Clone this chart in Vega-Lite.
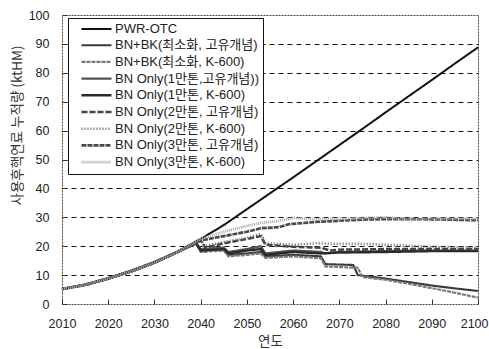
{
  "$schema": "https://vega.github.io/schema/vega-lite/v6.json",
  "width": 416,
  "height": 289,
  "autosize": {"type": "none"},
  "padding": {"left": 62, "top": 15, "right": 11, "bottom": 45},
  "background": "white",
  "config": {
    "view": {"stroke": "#444", "strokeWidth": 1, "strokeDash": [2, 1]},
    "font": "Liberation Sans",
    "axis": {"labelFont": "Liberation Sans", "titleFont": "Noto Sans CJK KR", "labelColor": "#222", "titleColor": "#333", "labelFontSize": 12.5, "titleFontSize": 13.5, "titleFontWeight": "normal", "domain": false, "tickColor": "#333"}
  },
  "data": {"values": [
    {"series":"PWR-OTC","year":2010,"value":5.0},{"series":"PWR-OTC","year":2015,"value":6.8},{"series":"PWR-OTC","year":2020,"value":9.0},{"series":"PWR-OTC","year":2025,"value":11.6},{"series":"PWR-OTC","year":2030,"value":14.6},{"series":"PWR-OTC","year":2035,"value":18.2},{"series":"PWR-OTC","year":2040,"value":22.5},{"series":"PWR-OTC","year":2045,"value":27.3},{"series":"PWR-OTC","year":2050,"value":32.8},{"series":"PWR-OTC","year":2055,"value":38.3},{"series":"PWR-OTC","year":2060,"value":43.8},{"series":"PWR-OTC","year":2065,"value":49.4},{"series":"PWR-OTC","year":2070,"value":55.0},{"series":"PWR-OTC","year":2075,"value":60.6},{"series":"PWR-OTC","year":2080,"value":66.3},{"series":"PWR-OTC","year":2085,"value":71.9},{"series":"PWR-OTC","year":2090,"value":77.5},{"series":"PWR-OTC","year":2095,"value":83.2},{"series":"PWR-OTC","year":2100,"value":88.8},

    {"series":"BN+BK(최소화, 고유개념)","year":2010,"value":5.2},{"series":"BN+BK(최소화, 고유개념)","year":2015,"value":6.6},{"series":"BN+BK(최소화, 고유개념)","year":2020,"value":8.8},{"series":"BN+BK(최소화, 고유개념)","year":2025,"value":11.3},{"series":"BN+BK(최소화, 고유개념)","year":2030,"value":14.3},{"series":"BN+BK(최소화, 고유개념)","year":2035,"value":18.0},{"series":"BN+BK(최소화, 고유개념)","year":2039,"value":21.2},{"series":"BN+BK(최소화, 고유개념)","year":2040,"value":18.5},{"series":"BN+BK(최소화, 고유개념)","year":2045,"value":19.0},{"series":"BN+BK(최소화, 고유개념)","year":2046,"value":17.0},{"series":"BN+BK(최소화, 고유개념)","year":2050,"value":17.5},{"series":"BN+BK(최소화, 고유개념)","year":2053,"value":18.0},{"series":"BN+BK(최소화, 고유개념)","year":2054,"value":16.5},{"series":"BN+BK(최소화, 고유개념)","year":2060,"value":17.0},{"series":"BN+BK(최소화, 고유개념)","year":2066,"value":16.5},{"series":"BN+BK(최소화, 고유개념)","year":2067,"value":13.8},{"series":"BN+BK(최소화, 고유개념)","year":2073,"value":13.5},{"series":"BN+BK(최소화, 고유개념)","year":2074,"value":10.0},{"series":"BN+BK(최소화, 고유개념)","year":2080,"value":8.8},{"series":"BN+BK(최소화, 고유개념)","year":2085,"value":7.6},{"series":"BN+BK(최소화, 고유개념)","year":2090,"value":6.4},{"series":"BN+BK(최소화, 고유개념)","year":2095,"value":5.4},{"series":"BN+BK(최소화, 고유개념)","year":2100,"value":4.5},

    {"series":"BN+BK(최소화, K-600)","year":2010,"value":5.2},{"series":"BN+BK(최소화, K-600)","year":2015,"value":6.6},{"series":"BN+BK(최소화, K-600)","year":2020,"value":8.8},{"series":"BN+BK(최소화, K-600)","year":2025,"value":11.3},{"series":"BN+BK(최소화, K-600)","year":2030,"value":14.3},{"series":"BN+BK(최소화, K-600)","year":2035,"value":18.0},{"series":"BN+BK(최소화, K-600)","year":2039,"value":21.0},{"series":"BN+BK(최소화, K-600)","year":2040,"value":18.0},{"series":"BN+BK(최소화, K-600)","year":2045,"value":18.5},{"series":"BN+BK(최소화, K-600)","year":2046,"value":16.5},{"series":"BN+BK(최소화, K-600)","year":2050,"value":17.0},{"series":"BN+BK(최소화, K-600)","year":2053,"value":17.5},{"series":"BN+BK(최소화, K-600)","year":2054,"value":16.0},{"series":"BN+BK(최소화, K-600)","year":2060,"value":16.5},{"series":"BN+BK(최소화, K-600)","year":2066,"value":15.8},{"series":"BN+BK(최소화, K-600)","year":2067,"value":13.0},{"series":"BN+BK(최소화, K-600)","year":2074,"value":12.5},{"series":"BN+BK(최소화, K-600)","year":2075,"value":9.3},{"series":"BN+BK(최소화, K-600)","year":2080,"value":8.4},{"series":"BN+BK(최소화, K-600)","year":2085,"value":7.0},{"series":"BN+BK(최소화, K-600)","year":2090,"value":5.5},{"series":"BN+BK(최소화, K-600)","year":2095,"value":3.9},{"series":"BN+BK(최소화, K-600)","year":2100,"value":2.2},

    {"series":"BN Only(1만톤,고유개념))","year":2010,"value":5.2},{"series":"BN Only(1만톤,고유개념))","year":2015,"value":6.6},{"series":"BN Only(1만톤,고유개념))","year":2020,"value":8.8},{"series":"BN Only(1만톤,고유개념))","year":2025,"value":11.3},{"series":"BN Only(1만톤,고유개념))","year":2030,"value":14.3},{"series":"BN Only(1만톤,고유개념))","year":2035,"value":18.0},{"series":"BN Only(1만톤,고유개념))","year":2039,"value":21.0},{"series":"BN Only(1만톤,고유개념))","year":2040,"value":19.0},{"series":"BN Only(1만톤,고유개념))","year":2045,"value":19.5},{"series":"BN Only(1만톤,고유개념))","year":2046,"value":18.0},{"series":"BN Only(1만톤,고유개념))","year":2050,"value":19.0},{"series":"BN Only(1만톤,고유개념))","year":2053,"value":20.0},{"series":"BN Only(1만톤,고유개념))","year":2054,"value":17.5},{"series":"BN Only(1만톤,고유개념))","year":2060,"value":18.5},{"series":"BN Only(1만톤,고유개념))","year":2066,"value":18.0},{"series":"BN Only(1만톤,고유개념))","year":2067,"value":17.5},{"series":"BN Only(1만톤,고유개념))","year":2070,"value":18.0},{"series":"BN Only(1만톤,고유개념))","year":2080,"value":18.3},{"series":"BN Only(1만톤,고유개념))","year":2090,"value":18.5},{"series":"BN Only(1만톤,고유개념))","year":2100,"value":18.5},

    {"series":"BN Only(1만톤, K-600)","year":2010,"value":5.2},{"series":"BN Only(1만톤, K-600)","year":2015,"value":6.6},{"series":"BN Only(1만톤, K-600)","year":2020,"value":8.8},{"series":"BN Only(1만톤, K-600)","year":2025,"value":11.3},{"series":"BN Only(1만톤, K-600)","year":2030,"value":14.3},{"series":"BN Only(1만톤, K-600)","year":2035,"value":18.0},{"series":"BN Only(1만톤, K-600)","year":2039,"value":21.0},{"series":"BN Only(1만톤, K-600)","year":2040,"value":18.5},{"series":"BN Only(1만톤, K-600)","year":2045,"value":19.0},{"series":"BN Only(1만톤, K-600)","year":2046,"value":17.5},{"series":"BN Only(1만톤, K-600)","year":2050,"value":18.5},{"series":"BN Only(1만톤, K-600)","year":2053,"value":19.0},{"series":"BN Only(1만톤, K-600)","year":2054,"value":17.0},{"series":"BN Only(1만톤, K-600)","year":2060,"value":18.0},{"series":"BN Only(1만톤, K-600)","year":2066,"value":17.5},{"series":"BN Only(1만톤, K-600)","year":2070,"value":17.8},{"series":"BN Only(1만톤, K-600)","year":2080,"value":18.0},{"series":"BN Only(1만톤, K-600)","year":2090,"value":18.3},{"series":"BN Only(1만톤, K-600)","year":2100,"value":18.3},

    {"series":"BN Only(2만톤, 고유개념)","year":2010,"value":5.2},{"series":"BN Only(2만톤, 고유개념)","year":2015,"value":6.6},{"series":"BN Only(2만톤, 고유개념)","year":2020,"value":8.8},{"series":"BN Only(2만톤, 고유개념)","year":2025,"value":11.3},{"series":"BN Only(2만톤, 고유개념)","year":2030,"value":14.3},{"series":"BN Only(2만톤, 고유개념)","year":2035,"value":18.0},{"series":"BN Only(2만톤, 고유개념)","year":2040,"value":22.0},{"series":"BN Only(2만톤, 고유개념)","year":2041,"value":19.5},{"series":"BN Only(2만톤, 고유개념)","year":2045,"value":21.0},{"series":"BN Only(2만톤, 고유개념)","year":2050,"value":22.5},{"series":"BN Only(2만톤, 고유개념)","year":2053,"value":23.5},{"series":"BN Only(2만톤, 고유개념)","year":2054,"value":20.5},{"series":"BN Only(2만톤, 고유개념)","year":2060,"value":19.8},{"series":"BN Only(2만톤, 고유개념)","year":2066,"value":19.5},{"series":"BN Only(2만톤, 고유개념)","year":2068,"value":18.5},{"series":"BN Only(2만톤, 고유개념)","year":2070,"value":18.8},{"series":"BN Only(2만톤, 고유개념)","year":2080,"value":19.0},{"series":"BN Only(2만톤, 고유개념)","year":2090,"value":19.0},{"series":"BN Only(2만톤, 고유개념)","year":2100,"value":19.0},

    {"series":"BN Only(2만톤, K-600)","year":2010,"value":5.2},{"series":"BN Only(2만톤, K-600)","year":2015,"value":6.6},{"series":"BN Only(2만톤, K-600)","year":2020,"value":8.8},{"series":"BN Only(2만톤, K-600)","year":2025,"value":11.3},{"series":"BN Only(2만톤, K-600)","year":2030,"value":14.3},{"series":"BN Only(2만톤, K-600)","year":2035,"value":18.0},{"series":"BN Only(2만톤, K-600)","year":2040,"value":22.0},{"series":"BN Only(2만톤, K-600)","year":2041,"value":20.0},{"series":"BN Only(2만톤, K-600)","year":2045,"value":21.5},{"series":"BN Only(2만톤, K-600)","year":2050,"value":22.8},{"series":"BN Only(2만톤, K-600)","year":2053,"value":24.3},{"series":"BN Only(2만톤, K-600)","year":2054,"value":21.0},{"series":"BN Only(2만톤, K-600)","year":2060,"value":20.5},{"series":"BN Only(2만톤, K-600)","year":2065,"value":21.0},{"series":"BN Only(2만톤, K-600)","year":2070,"value":20.8},{"series":"BN Only(2만톤, K-600)","year":2075,"value":20.8},{"series":"BN Only(2만톤, K-600)","year":2080,"value":20.5},{"series":"BN Only(2만톤, K-600)","year":2090,"value":19.8},{"series":"BN Only(2만톤, K-600)","year":2100,"value":19.5},

    {"series":"BN Only(3만톤, 고유개념)","year":2010,"value":5.2},{"series":"BN Only(3만톤, 고유개념)","year":2015,"value":6.6},{"series":"BN Only(3만톤, 고유개념)","year":2020,"value":8.8},{"series":"BN Only(3만톤, 고유개념)","year":2025,"value":11.3},{"series":"BN Only(3만톤, 고유개념)","year":2030,"value":14.3},{"series":"BN Only(3만톤, 고유개념)","year":2035,"value":18.0},{"series":"BN Only(3만톤, 고유개념)","year":2040,"value":22.0},{"series":"BN Only(3만톤, 고유개념)","year":2045,"value":23.5},{"series":"BN Only(3만톤, 고유개념)","year":2050,"value":25.0},{"series":"BN Only(3만톤, 고유개념)","year":2053,"value":26.2},{"series":"BN Only(3만톤, 고유개념)","year":2057,"value":26.6},{"series":"BN Only(3만톤, 고유개념)","year":2059,"value":27.6},{"series":"BN Only(3만톤, 고유개념)","year":2062,"value":28.0},{"series":"BN Only(3만톤, 고유개념)","year":2065,"value":28.4},{"series":"BN Only(3만톤, 고유개념)","year":2070,"value":28.8},{"series":"BN Only(3만톤, 고유개념)","year":2075,"value":29.2},{"series":"BN Only(3만톤, 고유개념)","year":2080,"value":29.4},{"series":"BN Only(3만톤, 고유개념)","year":2090,"value":29.3},{"series":"BN Only(3만톤, 고유개념)","year":2100,"value":29.0},

    {"series":"BN Only(3만톤, K-600)","year":2010,"value":5.2},{"series":"BN Only(3만톤, K-600)","year":2015,"value":6.6},{"series":"BN Only(3만톤, K-600)","year":2020,"value":8.8},{"series":"BN Only(3만톤, K-600)","year":2025,"value":11.3},{"series":"BN Only(3만톤, K-600)","year":2030,"value":14.3},{"series":"BN Only(3만톤, K-600)","year":2035,"value":18.0},{"series":"BN Only(3만톤, K-600)","year":2040,"value":22.5},{"series":"BN Only(3만톤, K-600)","year":2045,"value":25.0},{"series":"BN Only(3만톤, K-600)","year":2050,"value":27.0},{"series":"BN Only(3만톤, K-600)","year":2053,"value":28.0},{"series":"BN Only(3만톤, K-600)","year":2057,"value":28.8},{"series":"BN Only(3만톤, K-600)","year":2060,"value":29.8},{"series":"BN Only(3만톤, K-600)","year":2065,"value":29.3},{"series":"BN Only(3만톤, K-600)","year":2070,"value":29.5},{"series":"BN Only(3만톤, K-600)","year":2080,"value":30.0},{"series":"BN Only(3만톤, K-600)","year":2085,"value":29.3},{"series":"BN Only(3만톤, K-600)","year":2090,"value":29.6},{"series":"BN Only(3만톤, K-600)","year":2100,"value":29.5}
  ]},
  "mark": {"type": "line"},
  "encoding": {
    "x": {"field": "year", "type": "quantitative", "scale": {"domain": [2010, 2100], "nice": false, "zero": false},
      "axis": {"values": [2010,2020,2030,2040,2050,2060,2070,2080,2090,2100], "format": "d", "grid": false, "tickSize": -5, "labelPadding": 18, "labelFlush": false, "labelOverlap": false, "title": "연도", "titlePadding": 5,
        "labelAlign": {"condition": {"test": "datum.value == 2100", "value": "right"}, "value": "center"},
        "labelOffset": {"condition": {"test": "datum.value == 2100", "value": 10}, "value": 0}}},
    "y": {"field": "value", "type": "quantitative", "scale": {"domain": [0, 100], "nice": false},
      "axis": {"values": [0,10,20,30,40,50,60,70,80,90,100], "grid": true, "gridColor": "#111", "gridDash": [5, 4], "gridWidth": 1,
        "gridOpacity": {"condition": {"test": "datum.value > 0 && datum.value < 100", "value": 1}, "value": 0},
        "tickSize": -5, "labelPadding": 18, "labelFlush": false, "title": "사용후핵연료 누적량 (ktHM)", "titleX": -38, "titleY": 110, "titleAngle": -90}},
    "color": {"field": "series", "type": "nominal",
      "scale": {"domain": ["PWR-OTC","BN+BK(최소화, 고유개념)","BN+BK(최소화, K-600)","BN Only(1만톤,고유개념))","BN Only(1만톤, K-600)","BN Only(2만톤, 고유개념)","BN Only(2만톤, K-600)","BN Only(3만톤, 고유개념)","BN Only(3만톤, K-600)"],
        "range": ["#111111","#3a3a3a","#777777","#555555","#2a2a2a","#444444","#666666","#4a4a4a","#a8a8a8"]},
      "legend": {"orient": "none", "legendX": 6, "legendY": 3, "title": null, "fillColor": "white", "strokeColor": "#111", "padding": 4, "labelFont": "Liberation Sans, Noto Sans CJK KR", "labelFontSize": 13, "labelColor": "#222", "labelLimit": 400, "symbolType": "M0.33,0L5.33,0", "symbolSize": 144, "rowPadding": 1.7, "labelOffset": 28}},
    "strokeDash": {"field": "series", "type": "nominal",
      "scale": {"domain": ["PWR-OTC","BN+BK(최소화, 고유개념)","BN+BK(최소화, K-600)","BN Only(1만톤,고유개념))","BN Only(1만톤, K-600)","BN Only(2만톤, 고유개념)","BN Only(2만톤, K-600)","BN Only(3만톤, 고유개념)","BN Only(3만톤, K-600)"],
        "range": [[1,0],[1,0],[4,1],[1,0],[1,0],[6,2],[1,2],[5,1],[1,1]]}},
    "strokeWidth": {"field": "series", "type": "nominal",
      "scale": {"domain": ["PWR-OTC","BN+BK(최소화, 고유개념)","BN+BK(최소화, K-600)","BN Only(1만톤,고유개념))","BN Only(1만톤, K-600)","BN Only(2만톤, 고유개념)","BN Only(2만톤, K-600)","BN Only(3만톤, 고유개념)","BN Only(3만톤, K-600)"],
        "range": [2, 2.8, 2.8, 2.8, 2.8, 2.8, 2.2, 2.8, 2.8]}}
  }
}
